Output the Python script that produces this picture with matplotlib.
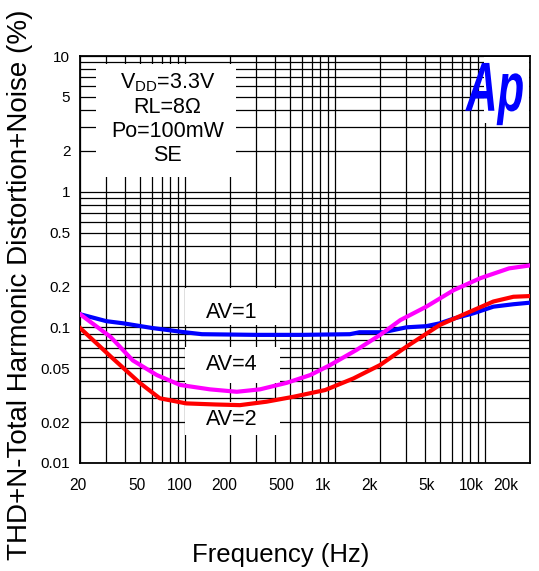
import numpy as np
import matplotlib.pyplot as plt
from matplotlib.ticker import FixedLocator, NullFormatter
from matplotlib.patches import Rectangle, PathPatch
from matplotlib.textpath import TextPath
from matplotlib.font_manager import FontProperties
from matplotlib.transforms import Affine2D, blended_transform_factory, offset_copy

plt.rcParams['font.family'] = ['Liberation Sans', 'DejaVu Sans']
plt.rcParams['mathtext.fontset'] = 'custom'
plt.rcParams['mathtext.rm'] = 'Liberation Sans'

# THD+N vs frequency
freq_av1 = [20, 30, 39, 60, 100, 130, 300, 600, 1260, 1460, 2100, 3000, 4070, 5000, 6200, 8400, 11400, 15500, 20000]
thd_av1 = [0.125, 0.111, 0.107, 0.099, 0.092, 0.089, 0.088, 0.088, 0.089, 0.092, 0.092, 0.1, 0.102, 0.107, 0.116, 0.127, 0.142, 0.148, 0.152]

freq_av2 = [20, 32, 50, 68, 102, 160, 233, 350, 532, 686, 862, 1330, 2000, 3000, 5000, 7540, 11400, 15500, 20000]
thd_av2 = [0.099, 0.061, 0.039, 0.030, 0.0275, 0.027, 0.0267, 0.0283, 0.0308, 0.0327, 0.0345, 0.042, 0.0527, 0.072, 0.104, 0.127, 0.155, 0.168, 0.17]

freq_av4 = [20, 32, 45, 65, 93, 147, 222, 317, 478, 686, 930, 1390, 2000, 2730, 4070, 6200, 9300, 14500, 20000]
thd_av4 = [0.125, 0.085, 0.057, 0.0445, 0.0376, 0.0349, 0.0335, 0.0349, 0.039, 0.0445, 0.0527, 0.068, 0.0878, 0.113, 0.142, 0.188, 0.23, 0.272, 0.286]

xticks = [20, 50, 100, 200, 500, 1000, 2000, 5000, 10000, 20000]
xtick_labels = ['20', '50', '100', '200', '500', '1k', '2k', '5k', '10k', '20k']
xlabel_shift = [-2, -3, -5, -6, -8, -12, -11, -13, -14, -24]  # px, labels sit a bit left of their lines
yticks = [0.01, 0.02, 0.05, 0.1, 0.2, 0.5, 1, 2, 5, 10]
ytick_labels = ['0.01', '0.02', '0.05', '0.1', '0.2', '0.5', '1', '2', '5', '10']

fig = plt.figure(figsize=(5.39, 5.71), dpi=100)
ax = fig.add_axes([80 / 539, 108 / 571, 450 / 539, 407 / 571])

ax.set_xscale('log')
ax.set_yscale('log')
ax.set_xlim(20, 20000)
ax.set_ylim(0.01, 10)

# grid lines at every 1..9 per decade
xgrid = [m * 10 ** e for e in range(1, 5) for m in range(1, 10) if 20 <= m * 10 ** e <= 20000]
ygrid = [m * 10 ** e for e in range(-2, 2) for m in range(1, 10) if 0.01 <= m * 10 ** e <= 10]
ax.xaxis.set_major_locator(FixedLocator(xticks))
ax.yaxis.set_major_locator(FixedLocator(yticks))
ax.xaxis.set_minor_locator(FixedLocator(xgrid))
ax.yaxis.set_minor_locator(FixedLocator(ygrid))
ax.xaxis.set_minor_formatter(NullFormatter())
ax.yaxis.set_minor_formatter(NullFormatter())
ax.set_xticklabels([])
ax.set_yticklabels(ytick_labels)
ax.grid(True, which='both', color='black', linewidth=0.9)
ax.tick_params(which='both', length=0, labelsize=11)
ax.tick_params(axis='y', pad=7)
for s in ax.spines.values():
    s.set_linewidth(1.3)

# x tick labels placed by hand
trans = blended_transform_factory(ax.transData, ax.transAxes)
for f, lab, dx in zip(xticks, xtick_labels, xlabel_shift):
    t = offset_copy(trans, fig=fig, x=dx, y=-22, units='dots')
    ax.text(f, 0, lab, transform=t, ha='center', va='center', fontsize=11.2, clip_on=False)

ax.plot(freq_av1, thd_av1, color='#0000ff', linewidth=3.0, zorder=5)
ax.plot(freq_av4, thd_av4, color='#ff00ff', linewidth=3.0, zorder=5)
ax.plot(freq_av2, thd_av2, color='#ff0000', linewidth=3.0, zorder=5)

# white patches over the grid behind the annotations
for (x0, y0, w, h) in [(0.036, 0.703, 0.311, 0.277),
                       (0.233, 0.339, 0.211, 0.091),
                       (0.233, 0.197, 0.211, 0.088),
                       (0.233, 0.069, 0.211, 0.080),
                       (0.897, 0.836, 0.100, 0.162)]:
    ax.add_patch(Rectangle((x0, y0), w, h, transform=ax.transAxes, facecolor='white',
                           edgecolor='none', zorder=3))

ax.text(0.338, 0.371, 'AV=1', transform=ax.transAxes, ha='center', va='center', fontsize=15.5, zorder=4)
ax.text(0.338, 0.241, 'AV=4', transform=ax.transAxes, ha='center', va='center', fontsize=15.5, zorder=4)
ax.text(0.338, 0.106, 'AV=2', transform=ax.transAxes, ha='center', va='center', fontsize=15.5, zorder=4)

cond = 'V$_{\\mathrm{DD}}$=3.3V\nRL=8\u03a9\nPo=100mW\nSE'
ax.text(0.194, 0.846, cond, transform=ax.transAxes, ha='center', va='center', fontsize=15.5,
        linespacing=1.2, zorder=4)

# Ap logo, squeezed into its box
tp = TextPath((0, 0), 'Ap', size=1, prop=FontProperties(family='Liberation Sans', weight='bold', style='italic'))
bb = tp.get_extents()
lx0, lx1, ly0, ly1 = 0.856, 0.984, 0.830, 0.983
logo_tr = Affine2D().translate(-bb.x0, -bb.y0).scale((lx1 - lx0) / bb.width, (ly1 - ly0) / bb.height) \
    .translate(lx0, ly0) + ax.transAxes
ax.add_patch(PathPatch(tp, transform=logo_tr, facecolor='#0000ff', edgecolor='none', zorder=4))

fig.text(281 / 539, 1 - 555 / 571, 'Frequency (Hz)', fontsize=18.5, ha='center', va='center')
fig.text(20 / 539, 1 - 285 / 571, 'THD+N-Total Harmonic Distortion+Noise (%)', fontsize=20,
         rotation=90, ha='center', va='center')

fig.savefig('out.png', dpi=100)
